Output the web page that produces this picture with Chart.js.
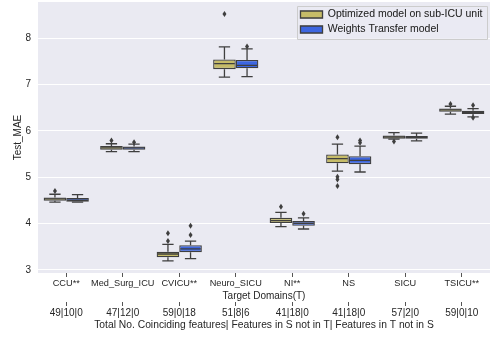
<!DOCTYPE html>
<html>
<head>
<meta charset="utf-8">
<script src="https://cdn.jsdelivr.net/npm/chart.js@4"></script>
<style>
  body { margin: 0; background: #fff; }
  #wrap { width: 490px; height: 339px; }
</style>
</head>
<body>
<div id="wrap"><canvas id="myChart"></canvas></div>
<script>
// categories + second row of labels
const categories = ['CCU**', 'Med_Surg_ICU', 'CVICU**', 'Neuro_SICU', 'NI**', 'NS', 'SICU', 'TSICU**'];
const featureLabels = ['49|10|0', '47|12|0', '59|0|18', '51|8|6', '41|18|0', '41|18|0', '57|2|0', '59|0|10'];
const yTicks = [3, 4, 5, 6, 7, 8];

// Optimized model on sub-ICU unit
const optQ1 = [4.49, 5.59, 3.27, 7.33, 4.01, 5.30, 5.83, 6.41];
const optQ3 = [4.56, 5.67, 3.39, 7.54, 4.12, 5.49, 5.90, 6.48];
const optMed = [4.53, 5.63, 3.34, 7.45, 4.06, 5.40, 5.87, 6.45];
const optLo = [4.46, 5.55, 3.19, 7.16, 3.93, 5.13, 5.82, 6.36];
const optHi = [4.63, 5.72, 3.55, 7.81, 4.24, 5.71, 5.96, 6.53];
const optOut = [[4.70], [5.79], [3.62, 3.79], [8.52], [4.36], [5.86, 5.01, 4.95, 4.81], [5.77], [6.58]];

// Weights Transfer model
const wtQ1 = [4.47, 5.59, 3.38, 7.35, 3.95, 5.28, 5.83, 6.36];
const wtQ3 = [4.55, 5.66, 3.53, 7.53, 4.05, 5.45, 5.89, 6.43];
const wtMed = [4.50, 5.63, 3.45, 7.41, 4.00, 5.36, 5.86, 6.40];
const wtLo = [4.46, 5.55, 3.24, 7.17, 3.88, 5.11, 5.78, 6.30];
const wtHi = [4.62, 5.71, 3.62, 7.77, 4.12, 5.67, 5.95, 6.48];
const wtOut = [[], [5.75], [3.75, 3.95], [7.82], [4.21], [5.74, 5.79], [], [6.55, 6.28]];

const lineCol = '#3f3f3f';
const txtCol = '#262626';

Chart.defaults.font.family = "'Liberation Sans', Arial, sans-serif";
Chart.defaults.font.size = 10;
Chart.defaults.color = txtCol;

function boxes(q1, q3) {
    var d = [];
    for (var i = 0; i < q1.length; i++) d.push([q1[i], q3[i]]);
    return d;
}

// whiskers, medians, outliers drawn from the bar elements + y scale
const boxExtras = {
    id: 'boxExtras',
    beforeDraw(chart) {
        const a = chart.chartArea, ctx = chart.ctx;
        ctx.save();
        ctx.fillStyle = '#eaeaf2';
        ctx.fillRect(a.left, a.top, a.right - a.left, a.bottom - a.top);
        ctx.restore();
    },
    afterLayout(chart) {
        const a = chart.chartArea, lg = chart.legend;
        lg.left = a.right - 194;
        lg.top = a.top + 2.75;
        lg.width = 191;
        lg.height = 40;
        lg.right = lg.left + lg.width;
        lg.bottom = lg.top + lg.height;
    },
    afterDatasetsDraw(chart) {
        const ctx = chart.ctx, y = chart.scales.y;
        ctx.save();
        ctx.strokeStyle = lineCol;
        ctx.fillStyle = lineCol;
        ctx.lineWidth = 1.3;
        chart.data.datasets.forEach(function (ds, di) {
            const meta = chart.getDatasetMeta(di);
            meta.data.forEach(function (el, i) {
                const x = el.x, w = el.width;
                const pQ1 = y.getPixelForValue(ds.data[i][0]);
                const pQ3 = y.getPixelForValue(ds.data[i][1]);
                const pLo = y.getPixelForValue(ds.lo[i]);
                const pHi = y.getPixelForValue(ds.hi[i]);
                const pMed = y.getPixelForValue(ds.med[i]);
                ctx.beginPath();
                ctx.moveTo(x, pQ1); ctx.lineTo(x, pLo);
                ctx.moveTo(x, pQ3); ctx.lineTo(x, pHi);
                ctx.moveTo(x - w / 4, pLo); ctx.lineTo(x + w / 4, pLo);
                ctx.moveTo(x - w / 4, pHi); ctx.lineTo(x + w / 4, pHi);
                ctx.moveTo(x - w / 2 + 1, pMed); ctx.lineTo(x + w / 2 - 1, pMed);
                ctx.stroke();
                ds.out[i].forEach(function (v) {
                    const py = y.getPixelForValue(v);
                    ctx.beginPath();
                    ctx.moveTo(x, py - 3);
                    ctx.lineTo(x + 2, py);
                    ctx.lineTo(x, py + 3);
                    ctx.lineTo(x - 2, py);
                    ctx.closePath();
                    ctx.fill();
                });
            });
        });
        ctx.restore();
    },
    afterDraw(chart) {
        const a = chart.chartArea, ctx = chart.ctx;
        ctx.save();
        ctx.fillStyle = 'rgba(234,234,242,0.8)';
        ctx.strokeStyle = '#cccccc';
        ctx.lineWidth = 1;
        const fx = a.right - 193, fy = a.top + 4;
        ctx.beginPath();
        ctx.rect(fx + 0.5, fy + 0.5, 190, 33);
        ctx.fill();
        ctx.stroke();
        ctx.restore();
        chart.legend.draw();
    }
};

const ctx = document.getElementById('myChart').getContext('2d');
const myChart = new Chart(ctx, {
    type: 'bar',
    data: {
        labels: categories,
        datasets: [{
            label: 'Optimized model on sub-ICU unit',
            data: boxes(optQ1, optQ3),
            med: optMed, lo: optLo, hi: optHi, out: optOut,
            backgroundColor: '#c6bc68',
            borderColor: lineCol,
            borderWidth: 1.3,
            borderSkipped: false,
            categoryPercentage: 0.8,
            barPercentage: 1.0
        }, {
            label: 'Weights Transfer model',
            data: boxes(wtQ1, wtQ3),
            med: wtMed, lo: wtLo, hi: wtHi, out: wtOut,
            backgroundColor: '#3d66e0',
            borderColor: lineCol,
            borderWidth: 1.3,
            borderSkipped: false,
            categoryPercentage: 0.8,
            barPercentage: 1.0
        }]
    },
    options: {
        responsive: true,
        maintainAspectRatio: false,
        animation: false,
        layout: { padding: { top: 2, left: 0, right: 0, bottom: 8 } },
        plugins: {
            tooltip: { enabled: false },
            legend: {
                position: 'chartArea',
                align: 'start',
                fullSize: false,
                labels: {
                    boxWidth: 22,
                    boxHeight: 7,
                    padding: 4.5,
                    font: { size: 10.5 },
                    color: txtCol
                }
            }
        },
        scales: {
            x: {
                type: 'category',
                offset: true,
                weight: 0,
                grid: { offset: false, drawOnChartArea: false, drawTicks: true, tickLength: 4, tickColor: '#555' },
                border: { display: false },
                ticks: { padding: 1, maxRotation: 0, minRotation: 0, autoSkip: false, color: txtCol, font: { size: 9.2 } },
                title: { display: true, text: 'Target Domains(T)', color: txtCol, font: { size: 10 }, padding: { top: 0, bottom: 0 } },
                afterFit: function (s) { s.height = 29; s.paddingLeft = 0; s.paddingRight = 0; }
            },
            x2: {
                type: 'category',
                position: 'bottom',
                labels: featureLabels,
                offset: true,
                weight: 1,
                grid: { offset: false, drawOnChartArea: false, drawTicks: true, tickLength: 4, tickColor: '#555' },
                border: { display: false },
                ticks: { padding: 1, maxRotation: 0, minRotation: 0, autoSkip: false, color: txtCol },
                title: { display: true, text: 'Total No. Coinciding features| Features in S not in T| Features in T not in S', color: txtCol, font: { size: 10.3 }, padding: { top: 0, bottom: 0 } },
                afterFit: function (s) { s.height = 29; s.paddingLeft = 0; s.paddingRight = 0; }
            },
            y: {
                min: 2.93,
                max: 8.78,
                afterBuildTicks: function (s) { s.ticks = yTicks.map(function (v) { return { value: v }; }); },
                grid: { color: '#ffffff', lineWidth: 1, drawTicks: false },
                border: { display: false },
                ticks: { padding: 7, color: txtCol },
                title: { display: true, text: 'Test_MAE', color: txtCol, font: { size: 10 }, padding: { top: 12, bottom: 0 } },
                afterFit: function (s) { s.width = 38; s.paddingTop = 0; s.paddingBottom = 0; }
            }
        }
    },
    plugins: [boxExtras]
});
</script>
</body>
</html>
